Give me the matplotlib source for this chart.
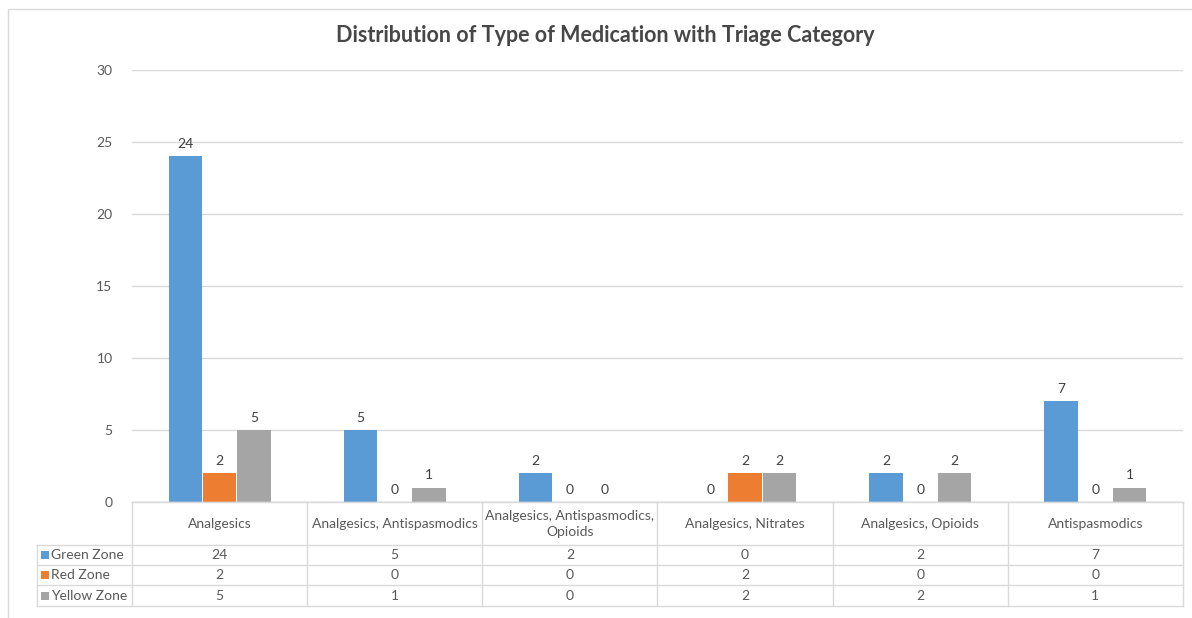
import matplotlib
matplotlib.use("Agg")
import matplotlib.pyplot as plt
from matplotlib.patches import Rectangle
from matplotlib.lines import Line2D

categories = ["Analgesics", "Analgesics, Antispasmodics", "Analgesics, Antispasmodics,\nOpioids",
              "Analgesics, Nitrates", "Analgesics, Opioids", "Antispasmodics"]
series_names = ["Green Zone", "Red Zone", "Yellow Zone"]
green = [24, 5, 2, 0, 2, 7]
red = [2, 0, 0, 2, 0, 0]
yellow = [5, 1, 0, 2, 2, 1]
colors = ["#5B9BD5", "#ED7D31", "#A5A5A5"]
yticks = [0, 5, 10, 15, 20, 25, 30]

plt.rcParams['font.family'] = ['Lato', 'DejaVu Sans']
txt = "#595959"
W, H = 1192, 618
fig = plt.figure(figsize=(W/100, H/100), dpi=100)

# chart border
fig.add_artist(Rectangle((8/W, -0.05), 1.2, 1 - 9/H + 0.05, transform=fig.transFigure,
                         fill=False, edgecolor="#D9D9D9", linewidth=1))

L, R, T, B = 132, 1183, 70, 502
ax = fig.add_axes([L/W, 1 - B/H, (R-L)/W, (B-T)/H])
n = len(categories)
ax.set_xlim(-0.5, n - 0.5)
ax.set_ylim(0, 30)
ax.set_yticks(yticks)
ax.set_yticklabels([str(v) for v in yticks], color=txt, fontsize=10)
ax.tick_params(axis='y', length=0, pad=14)
ax.set_xticks([])
for s in ax.spines.values():
    s.set_visible(False)
ax.grid(axis='y', color="#D9D9D9", linewidth=1)
ax.set_axisbelow(True)
ax.axhline(0, color="#D9D9D9", linewidth=1)

bw = 0.19
step = 0.196
data = [green, red, yellow]
for i, (vals, c) in enumerate(zip(data, colors)):
    xs = [k + (i - 1) * step for k in range(n)]
    ax.bar(xs, vals, width=bw, color=c)
    for x, v in zip(xs, vals):
        ax.text(x, v + 0.45, str(v), ha='center', va='bottom', fontsize=10, color="#404040")

fig.suptitle("Distribution of Type of Medication with Triage Category", x=605/W, y=1 - 35/H,
             va='center', fontsize=15.5, fontweight='bold', color="#474747")

# data table drawn in pixel space
def fx(px):
    return px / W
def fy(py):
    return 1 - py / H

gc = "#D9D9D9"
bounds = [L + k * (R - L) / n for k in range(n + 1)]
rows_y = [502, 545, 565, 585, 606]
legend_left = 37
# horizontal lines
fig.add_artist(Line2D([fx(L), fx(R)], [fy(rows_y[0]), fy(rows_y[0])], color=gc, lw=1))
for y in rows_y[1:]:
    fig.add_artist(Line2D([fx(legend_left), fx(R)], [fy(y), fy(y)], color=gc, lw=1))
# vertical lines
for b in bounds:
    fig.add_artist(Line2D([fx(b), fx(b)], [fy(rows_y[0]), fy(rows_y[-1])], color=gc, lw=1))
fig.add_artist(Line2D([fx(legend_left), fx(legend_left)], [fy(rows_y[1]), fy(rows_y[-1])], color=gc, lw=1))

for k, cat in enumerate(categories):
    cx = (bounds[k] + bounds[k + 1]) / 2
    fig.text(fx(cx), fy((rows_y[0] + rows_y[1]) / 2), cat, ha='center', va='center',
             fontsize=10, color=txt, linespacing=1.4)
for r, (name, vals, c) in enumerate(zip(series_names, data, colors)):
    ymid = (rows_y[r + 1] + rows_y[r + 2]) / 2
    fig.add_artist(Rectangle((fx(41), fy(ymid + 4)), 8/W, 8/H, transform=fig.transFigure,
                             facecolor=c, edgecolor='none'))
    fig.text(fx(51), fy(ymid), name, ha='left', va='center', fontsize=10, color=txt)
    for k, v in enumerate(vals):
        cx = (bounds[k] + bounds[k + 1]) / 2
        fig.text(fx(cx), fy(ymid), str(v), ha='center', va='center', fontsize=10, color=txt)

fig.savefig("out.png", dpi=100, facecolor="white")
